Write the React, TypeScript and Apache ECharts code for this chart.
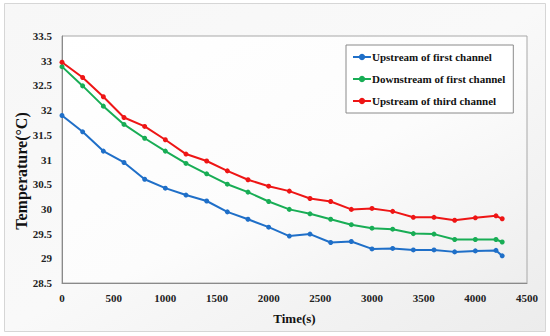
import React, { useEffect, useRef } from "react";
import * as echarts from "echarts";

const times = [0, 200, 400, 600, 800, 1000, 1200, 1400, 1600, 1800, 2000, 2200, 2400, 2600, 2800, 3000, 3200, 3400, 3600, 3800, 4000, 4200, 4260];
const upstreamFirst = [31.89, 31.56, 31.17, 30.94, 30.6, 30.42, 30.28, 30.16, 29.94, 29.79, 29.63, 29.45, 29.49, 29.32, 29.34, 29.19, 29.2, 29.17, 29.17, 29.13, 29.15, 29.16, 29.05];
const downstreamFirst = [32.88, 32.49, 32.08, 31.71, 31.43, 31.17, 30.92, 30.71, 30.5, 30.34, 30.15, 29.99, 29.9, 29.79, 29.68, 29.61, 29.59, 29.5, 29.49, 29.38, 29.38, 29.38, 29.33];
const upstreamThird = [32.97, 32.66, 32.27, 31.85, 31.67, 31.4, 31.11, 30.97, 30.77, 30.59, 30.46, 30.36, 30.21, 30.15, 29.99, 30.01, 29.95, 29.83, 29.83, 29.77, 29.82, 29.86, 29.8];
const seriesNames = ["Upstream of first channel", "Downstream of first channel", "Upstream of third channel"];
const seriesColors = ["#1f6fc8", "#18ad55", "#ee1515"];

const FONT = "'Liberation Serif', 'Times New Roman', serif";

export default function App() {
  const ref = useRef<HTMLDivElement>(null);
  useEffect(() => {
    if (!ref.current) return;
    const chart = echarts.init(ref.current, null, { renderer: "svg" });
    const values = [upstreamFirst, downstreamFirst, upstreamThird];
    chart.setOption({
      animation: false,
      backgroundColor: "#ffffff",
      graphic: [
        {
          type: "rect",
          z: -10,
          silent: true,
          shape: { x: 4.5, y: 3.5, width: 541, height: 328 },
          style: {
            fill: new echarts.graphic.LinearGradient(0, 0, 1, 1, [
              { offset: 0, color: "#f7f7f7" },
              { offset: 0.5, color: "#f9f9f9" },
              { offset: 1, color: "#ececec" },
            ]),
            stroke: "#d6d6d6",
            lineWidth: 1,
          },
        },
        {
          type: "text",
          x: 21,
          y: 171,
          rotation: Math.PI / 2,
          style: {
            text: "Temperature(°C)",
            font: `bold 16px ${FONT}`,
            fill: "#111",
            align: "center",
            verticalAlign: "middle",
          },
        },
      ],
      grid: {
        left: 62,
        top: 36,
        width: 465,
        height: 247,
        show: true,
        borderColor: "#a8a8a8",
        borderWidth: 1,
        backgroundColor: new echarts.graphic.LinearGradient(0, 0, 1, 1, [
          { offset: 0, color: "#ffffff" },
          { offset: 0.55, color: "#fcfcfc" },
          { offset: 1, color: "#eeeeee" },
        ]),
        containLabel: false,
      },
      legend: {
        orient: "vertical",
        left: 346,
        top: 45,
        padding: [6, 8, 6, 6],
        itemGap: 10,
        itemWidth: 18,
        itemHeight: 8,
        borderColor: "#8a8a8a",
        borderWidth: 1,
        backgroundColor: "#ffffff",
        data: seriesNames,
        textStyle: { fontFamily: FONT, fontWeight: "bold", fontSize: 11, color: "#111", padding: [0, 0, 0, -4], lineHeight: 12 },
      },
      xAxis: {
        type: "value",
        min: 0,
        max: 4500,
        interval: 500,
        name: "Time(s)",
        nameLocation: "middle",
        nameGap: 29,
        nameTextStyle: { fontFamily: FONT, fontWeight: "bold", fontSize: 13, color: "#111" },
        axisLine: { show: true, lineStyle: { color: "#8a8a8a", width: 1 } },
        axisTick: { show: false },
        splitLine: { show: false },
        axisLabel: {
          fontFamily: FONT,
          fontWeight: "bold",
          fontSize: 11,
          color: "#222",
          margin: 9,
          formatter: (v: number) => String(v),
        },
      },
      yAxis: {
        type: "value",
        min: 28.5,
        max: 33.5,
        interval: 0.5,
        axisLine: { show: true, lineStyle: { color: "#8a8a8a", width: 1 } },
        axisTick: { show: false },
        splitLine: { show: false },
        axisLabel: {
          fontFamily: FONT,
          fontWeight: "bold",
          fontSize: 11,
          color: "#222",
          margin: 10,
          formatter: (v: number) => String(v),
        },
      },
      series: seriesNames.map((name, i) => ({
        name,
        type: "line",
        data: times.map((t, j) => [t, values[i][j]]),
        symbol: "circle",
        symbolSize: 5,
        showSymbol: true,
        lineStyle: { width: 2, color: seriesColors[i] },
        itemStyle: { color: seriesColors[i] },
        color: seriesColors[i],
      })),
    });
    return () => chart.dispose();
  }, []);
  return (
    <div
      ref={ref}
      style={{ position: "fixed", left: 0, top: 0, width: 550, height: 336 }}
    />
  );
}
